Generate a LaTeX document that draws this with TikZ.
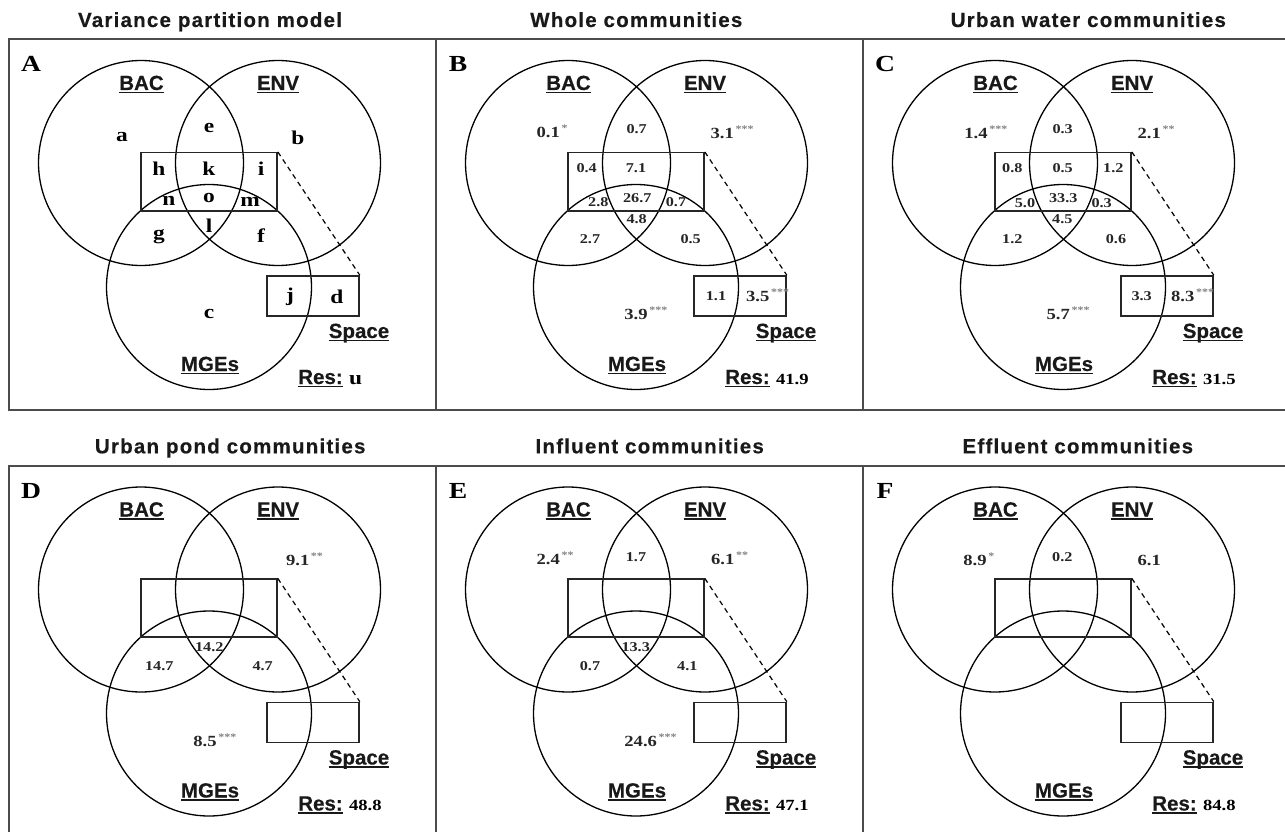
\documentclass[tikz,border=0pt]{standalone}
\usepackage{fontspec}
\setmainfont{Liberation Serif}
\newfontfamily\labfamily{Liberation Sans}[BoldFeatures={FakeBold=0.4}]
\newfontfamily\titlefamily{Liberation Sans}[LetterSpace=6, BoldFeatures={FakeBold=0.4}]
\newfontfamily\numfamily{Liberation Serif}[FakeStretch=1.2]
\definecolor{framegray}{gray}{0.3}
\definecolor{stargray}{gray}{0.5}

\tikzset{
  title/.style={font=\titlefamily\bfseries\fontsize{20.5}{20.5}\selectfont, anchor=base, inner sep=0pt, text=black!90},
  lab/.style={font=\labfamily\bfseries\fontsize{20.5}{20.5}\selectfont, anchor=base, inner sep=0pt, text=black!90},
  panelletter/.style={font=\numfamily\bfseries\fontsize{23}{23}\selectfont, inner sep=0pt},
  region/.style={font=\numfamily\bfseries\fontsize{19.5}{19.5}\selectfont, inner sep=0pt},
  bignum/.style={font=\numfamily\bfseries\fontsize{15.5}{15.5}\selectfont, inner sep=0pt, text=black!85},
  smallnum/.style={font=\numfamily\bfseries\fontsize{13.5}{13.5}\selectfont, inner sep=0pt, text=black!85},
  ulrule/.style={line width=1.4pt, black!90},
  venn/.style={circle, draw=black, line width=1.3pt, minimum size=205pt, inner sep=0pt},
  zoombox/.style={rectangle, draw=black!85, line width=1.6pt, inner sep=0pt},
  zoomline/.style={dash pattern=on 5pt off 4pt, line width=1.2pt},
  frame/.style={draw=framegray, line width=1.6pt}
}

% significance stars, set small and grey, without affecting the number's centring
\newcommand\sig[1]{\smash{\rlap{\raisebox{6pt}{\fontsize{10}{10}\selectfont\color{stargray}\,#1}}}}

% underlined variable label, placed by its baseline
\newcommand\ulabel[3]{%
  \node[lab] (#1) at (#2) {#3};
  \draw[ulrule] ([yshift=-2.5pt]#1.base west) -- ([yshift=-2.5pt]#1.base east);}

% the common frame of every panel: three sets, core box, space box, residual
\newcommand\vennskeleton[4]{%
  \begin{scope}[shift={(#2,#3)}]
    \node[venn] (#1bac) at (141,163) {};
    \node[venn] (#1env) at (278,163) {};
    \node[venn] (#1mge) at (209,287) {};
    \node[zoombox, minimum width=136pt, minimum height=58pt] (#1core) at (209,181.7) {};
    \node[zoombox, minimum width=92pt, minimum height=40pt] (#1space) at (313,296) {};
    \draw[zoomline] (#1core.north east) -- (#1space.north east);
    \node[panelletter] (#1letter) at (31,64) {#1};
    \ulabel{#1lbac}{141.5,90}{BAC}
    \ulabel{#1lenv}{278,90}{ENV}
    \ulabel{#1lmge}{210,371}{MGEs}
    \ulabel{#1lspace}{359,338}{Space}
    \ulabel{#1lres}{320.5,384}{Res:}
    \node[anchor=base west, inner sep=0pt] (#1res) at ([xshift=6pt]#1lres.base east) {#4};
  \end{scope}}

\begin{document}
\begin{tikzpicture}[x=1pt, y=-1pt]
\useasboundingbox (0,0) rectangle (1285,832);
\fill[white] (0,0) rectangle (1285,832);

% panel frames
\draw[frame] (1285,39) -- (9,39) -- (9,410) -- (1285,410);
\draw[frame] (436,39) -- (436,410);
\draw[frame] (863,39) -- (863,410);
\draw[frame] (9,832) -- (9,466) -- (1285,466);
\draw[frame] (436,466) -- (436,832);
\draw[frame] (863,466) -- (863,832);

% titles
\node[title] (tA) at (210,27) {Variance partition model};
\node[title] (tB) at (636.3,27) {Whole communities};
\node[title] (tC) at (1088.3,27) {Urban water communities};
\node[title] (tD) at (230.2,453.3) {Urban pond communities};
\node[title] (tE) at (649.7,453.3) {Influent communities};
\node[title] (tF) at (1077.8,453.3) {Effluent communities};

% ---------- A: model ----------
\vennskeleton{A}{0}{0}{\numfamily\bfseries\fontsize{19.5}{19.5}\selectfont u}
\begin{scope}
  \node[region] (Aa) at (122,137) {a};
  \node[region] (Ae) at (209,128) {e};
  \node[region] (Ab) at (298,138) {b};
  \node[region] (Ah) at (159,169) {h};
  \node[region] (Ak) at (209,169) {k};
  \node[region] (Ai) at (261,169) {i};
  \node[region] (An) at (169,201) {n};
  \node[region] (Ao) at (209,198) {o};
  \node[region] (Am) at (250,202) {m};
  \node[region] (Al) at (209,226) {l};
  \node[region] (Ag) at (159,237) {g};
  \node[region] (Af) at (261,236) {f};
  \node[region] (Aj) at (290,297) {j};
  \node[region] (Ad) at (337,297) {d};
  \node[region] (Ac) at (209,314) {c};
\end{scope}

% ---------- B: whole communities ----------
\vennskeleton{B}{427}{0}{\numfamily\bfseries\fontsize{15.5}{15.5}\selectfont 41.9}
\begin{scope}[shift={(427,0)}]
  \node[bignum] (Ba) at (121.3,132.7) {0.1\sig{*}};
  \node[bignum] (Bb) at (295.3,133.3) {3.1\sig{***}};
  \node[bignum] (Bd) at (330.7,296) {3.5\sig{***}};
  \node[bignum] (Bc) at (209,314.3) {3.9\sig{***}};
  \node[smallnum] (Be) at (209.7,129.3) {0.7};
  \node[smallnum] (Bh) at (159.7,168.3) {0.4};
  \node[smallnum] (Bk) at (209,168.3) {7.1};
  \node[smallnum] (Bn) at (171.3,201.7) {2.8};
  \node[smallnum] (Bo) at (210.3,198.3) {26.7};
  \node[smallnum] (Bm) at (249,201.7) {0.7};
  \node[smallnum] (Bl) at (209.7,219) {4.8};
  \node[smallnum] (Bg) at (163,239.3) {2.7};
  \node[smallnum] (Bf) at (263.7,239.3) {0.5};
  \node[smallnum] (Bj) at (289,296) {1.1};
\end{scope}

% ---------- C: urban water communities ----------
\vennskeleton{C}{854}{0}{\numfamily\bfseries\fontsize{15.5}{15.5}\selectfont 31.5}
\begin{scope}[shift={(854,0)}]
  \node[bignum] (Ca) at (122,133.3) {1.4\sig{***}};
  \node[bignum] (Cb) at (295.3,133.3) {2.1\sig{**}};
  \node[bignum] (Cd) at (328.7,296) {8.3\sig{***}};
  \node[bignum] (Cc) at (204.3,314.3) {5.7\sig{***}};
  \node[smallnum] (Ce) at (208.7,129.3) {0.3};
  \node[smallnum] (Ch) at (158.3,168.3) {0.8};
  \node[smallnum] (Ck) at (208.7,168.3) {0.5};
  \node[smallnum] (Ci) at (259.3,168.3) {1.2};
  \node[smallnum] (Cn) at (171,203.3) {5.0};
  \node[smallnum] (Co) at (209.3,198.3) {33.3};
  \node[smallnum] (Cm) at (247.7,203.3) {0.3};
  \node[smallnum] (Cl) at (208.3,219) {4.5};
  \node[smallnum] (Cg) at (158.3,239.3) {1.2};
  \node[smallnum] (Cf) at (262,239.3) {0.6};
  \node[smallnum] (Cj) at (287.7,296) {3.3};
\end{scope}

% ---------- D: urban pond communities ----------
\vennskeleton{D}{0}{426.5}{\numfamily\bfseries\fontsize{15.5}{15.5}\selectfont 48.8}
\begin{scope}[shift={(0,426.5)}]
  \node[bignum] (Db) at (297.7,133.5) {9.1\sig{**}};
  \node[bignum] (Dc) at (205,315.2) {8.5\sig{***}};
  \node[smallnum] (Dl) at (209.3,220.2) {14.2};
  \node[smallnum] (Dg) at (159.3,239.2) {14.7};
  \node[smallnum] (Df) at (262.7,239.2) {4.7};
\end{scope}

% ---------- E: influent communities ----------
\vennskeleton{E}{427}{426.5}{\numfamily\bfseries\fontsize{15.5}{15.5}\selectfont 47.1}
\begin{scope}[shift={(427,426.5)}]
  \node[bignum] (Ea) at (121.3,132.8) {2.4\sig{**}};
  \node[bignum] (Eb) at (295.7,132.8) {6.1\sig{**}};
  \node[bignum] (Ec) at (213.7,315.2) {24.6\sig{***}};
  \node[smallnum] (Ee) at (209,130.2) {1.7};
  \node[smallnum] (El) at (208.7,220.2) {13.3};
  \node[smallnum] (Eg) at (163,239.2) {0.7};
  \node[smallnum] (Ef) at (260.3,239.2) {4.1};
\end{scope}

% ---------- F: effluent communities ----------
\vennskeleton{F}{854}{426.5}{\numfamily\bfseries\fontsize{15.5}{15.5}\selectfont 84.8}
\begin{scope}[shift={(854,426.5)}]
  \node[bignum] (Fa) at (121,133.5) {8.9\sig{*}};
  \node[bignum] (Fb) at (295.3,133.5) {6.1};
  \node[smallnum] (Fe) at (208.3,130.2) {0.2};
\end{scope}
\end{tikzpicture}
\end{document}
